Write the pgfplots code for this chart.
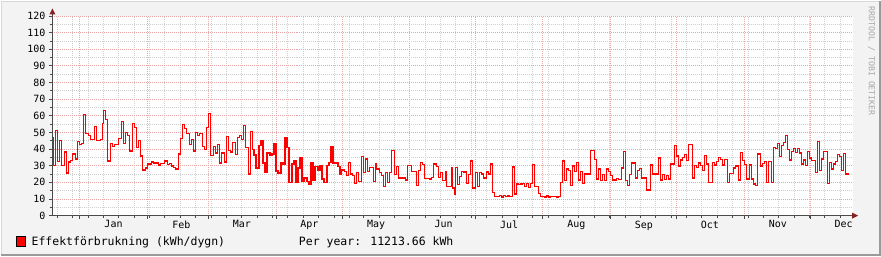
\documentclass[border=0pt]{standalone}
\usepackage{pgfplots}
\pgfplotsset{compat=1.18}
\usepackage{fontspec}
\setmainfont{DejaVu Sans Mono}
\definecolor{bg}{HTML}{F3F3F3}
\definecolor{shadea}{HTML}{D8D8D8}
\definecolor{shadeb}{HTML}{9A9A9A}
\definecolor{mgrid}{HTML}{E8A6A6}
\definecolor{mingrid}{HTML}{D0D0D0}
\definecolor{axisc}{HTML}{4A4A4A}
\definecolor{arrowc}{HTML}{8B1E1E}
\definecolor{wm}{HTML}{A8A8A8}
\begin{document}
\begin{tikzpicture}[x=1pt,y=1pt]
\fill[bg] (0,0) rectangle (881,255);
\draw[shadea, line width=1pt] (0.5,0) -- (0.5,254.5) -- (881,254.5);
\draw[shadeb, line width=2pt] (0,1) -- (880,1) -- (880,255);
\begin{axis}[
  at={(51pt,40pt)}, anchor=south west,
  scale only axis, width=802pt, height=200pt,
  xmin=51, xmax=853, ymin=0, ymax=120,
  axis background/.style={fill=white},
  axis line style={draw=none},
  xtick pos=left, ytick pos=left,
  tick align=outside,
  major tick length=3pt, minor tick length=2pt,
  tick style={axisc, line width=0.8pt},
  ytick={0,10,...,120},
  minor y tick num=1,
  xtick={78.5,146.5,207.5,275.5,341.5,409.5,475.5,542.5,610.5,676.5,744.5,810.5},
  xticklabels={},
  minor xtick={56.5,71.5,87.5,102.5,117.5,133.5,148.5,163.5,179.5,194.5,210.5,225.5,240.5,256.5,271.5,286.5,302.5,317.5,333.5,348.5,363.5,379.5,394.5,409.5,425.5,440.5,455.5,471.5,486.5,502.5,517.5,532.5,548.5,563.5,578.5,594.5,609.5,625.5,640.5,655.5,671.5,686.5,701.5,717.5,732.5,748.5,763.5,778.5,794.5,809.5,824.5,840.5},
  extra x ticks={112.7,180.7,241.3,309,375.7,443.3,509,576.3,644,710,778.3,844},
  extra x tick labels={Jan,Feb,Mar,Apr,May,Jun,Jul,Aug,Sep,Oct,Nov,Dec},
  extra x tick style={grid=none, major tick length=0pt, xticklabel style={yshift=-1.5pt}},
  grid=both,
  major grid style={mgrid, line width=0.8pt, dash pattern=on 1pt off 1pt},
  minor grid style={mingrid, line width=0.8pt, dash pattern=on 1pt off 1pt},
  tick label style={font=\fontsize{10}{12}\selectfont, text=black},
  /pgf/number format/assume math mode=true,
]
\addplot[const plot, red, line width=1.15pt] coordinates {
(51,47) (52.5,30) (54.5,51.4) (56.5,32.4) (58.5,45.4) (60.5,30) (63.5,38.2) (65.5,25.6) (67.5,32.2) (69.5,33)
(71.5,37) (74.5,34) (76.5,44.8) (78.5,42.6) (80.5,43.4) (82.5,61) (84.5,49.6) (87.5,48) (89.5,45.6) (93.5,53.8)
(95.5,45) (99.5,45.6) (101.5,55.6) (102.5,63.4) (104.5,57.6) (106.5,32.8) (109.5,43.6) (111.5,41.4) (113.5,43) (117.5,46.6)
(120.5,56.4) (122.5,43.6) (124.5,50.2) (126.5,48.4) (128.5,38.8) (131.5,55.6) (133.5,53.2) (135.5,40.8) (137.5,45.4) (139.5,35.8)
(141.5,27.4) (144.5,28.6) (146.5,31) (150.5,32.2) (152.5,31.6) (157.5,30.4) (159.5,31.2) (163.5,32.8) (166.5,30.8) (168.5,31.2)
(170.5,29.8) (172.5,28.8) (174.5,28) (177.5,37) (179.5,46.2) (181.5,55) (183.5,52.2) (185.5,49.6) (188.5,43) (190.5,45.6)
(192.5,38.8) (194.5,50.2) (196.5,48) (198.5,49.2) (201.5,41.8) (203.5,39.6) (205.5,53.2) (207.5,61.6) (209.5,36) (212.5,41.4)
(214.5,37.6) (216.5,43) (218.5,31.6) (220.5,37.6) (223.5,32.2) (225.5,47.8) (227.5,39.4) (229.5,38.2) (231.5,44.2) (234.5,36.6)
(236.5,46.8) (238.5,48.4) (240.5,46) (242.5,54.4) (244.5,41.2) (247.5,25) (249.5,50.8) (251.5,39.6) (253.5,36.4) (255.5,28.6)
(258.5,42.4) (260.5,45.4) (262.5,31.6) (264.5,26.2) (266.5,37.6) (269.5,36.4) (271.5,37) (273.5,43.6) (275.5,26.8) (277.5,25.6)
(280.5,31.6) (282.5,31) (284.5,47.2) (286.5,40.8) (288.5,20) (291.5,31) (293.5,32.8) (295.5,20) (297.5,28.6) (299.5,34.6)
(301.5,20.6) (303.5,22.6) (306.5,20.6) (308.5,18.6) (310.5,31.8) (312.5,21) (314.5,29.6) (317.5,27.4) (319.5,30) (321.5,22)
(323.5,20) (326.5,30) (328.5,32) (330.5,41.4) (332.5,31.6) (335.5,32) (337.5,29.4) (339.5,25) (341.5,27.4) (344.5,26.6)
(346.5,24) (348.5,32) (350.5,25) (352.5,24) (354.5,19.4) (356.5,26) (358.5,20.4) (361.5,35.4) (363.5,26) (365.5,34)
(367.5,26.6) (369.5,29) (373.5,20.4) (375.5,31) (376.5,28) (379.5,26) (381.5,24) (383.5,17.4) (385.5,26) (387.5,20)
(389.5,26) (391.5,39) (394.5,24.6) (396.5,29.4) (398.5,22.6) (405.5,21.4) (407.5,30) (411.5,26.6) (416.5,18) (418.5,27)
(420.5,31.8) (422.5,30.6) (424.5,22.4) (429.5,22) (431.5,23) (433.5,31) (436.5,29.4) (438.5,23) (440.5,26) (442.5,21)
(445.5,26.6) (446.5,17.4) (451.5,29) (452.5,16.6) (454.5,12.6) (455.5,29) (457.5,18.6) (459.5,23.4) (461.5,26.4) (463.5,26.2)
(466.5,19.4) (468.5,24.6) (470.5,32.8) (472.5,16.6) (475.5,26) (477.5,17.4) (479.5,26) (481.5,25) (483.5,22.6) (486.5,26.2)
(488.5,25) (490.5,31) (492.5,13.8) (494.5,11.4) (499.5,12.2) (501.5,11.2) (503.5,12) (505.5,11.4) (507.5,11.8) (509.5,11.4)
(512.5,29.2) (514.5,13) (516.5,19) (518.5,18.6) (520.5,19) (522.5,19.4) (524.5,17.4) (526.5,19.4) (528.5,17) (530.5,19.4)
(532.5,30.6) (534.5,17.4) (538.5,13.4) (540.5,11.4) (542.5,11.6) (544.5,11.2) (546.5,11.8) (548.5,11.2) (550.5,11.6) (552.5,11.4)
(554.5,11.6) (556.5,11.2) (558.5,11.4) (560.5,20) (562.5,32.8) (564.5,21) (566.5,28) (568.5,27) (570.5,18) (572.5,29.8)
(574.5,26.6) (576.5,32) (578.5,21.4) (580.5,26.6) (582.5,19.4) (584.5,25) (590.5,39) (594.5,33.8) (596.5,22) (598.5,28)
(600.5,21) (602.5,24.6) (604.5,21) (606.5,28) (608.5,26.4) (610.5,24) (612.5,21.4) (616.5,22.2) (618.5,21.8) (621.5,28.6)
(623.5,38.4) (625.5,21) (627.5,18) (629.5,24.6) (631.5,31.6) (635.5,22.6) (637.5,27) (639.5,28.4) (641.5,22.6) (646.5,15.4)
(650.5,30.4) (652.5,25) (658.5,34.6) (660.5,21.4) (662.5,24.6) (664.5,21.8) (666.5,24) (668.5,22) (670.5,31) (674.5,42)
(676.5,35.8) (678.5,29.8) (680.5,33.4) (682.5,35) (684.5,36.6) (686.5,33) (688.5,43) (692.5,22.6) (694.5,30) (696.5,29)
(698.5,31.6) (700.5,30) (702.5,27) (704.5,36) (706.5,31) (708.5,20) (712.5,32) (714.5,30.4) (716.5,32.4) (718.5,35)
(720.5,33.8) (722.5,30.4) (724.5,33.6) (727.5,20) (729.5,25.4) (733.5,28.6) (735.5,29.8) (738.5,21.4) (740.5,38) (742.5,33)
(744.5,30.6) (746.5,22) (749.5,30.4) (751.5,22) (753.5,19) (755.5,18) (757.5,37) (760.5,29.8) (762.5,31.4) (764.5,32.6)
(766.5,20) (768.5,32.6) (771.5,20) (773.5,41) (775.5,40.6) (777.5,43.4) (779.5,35.4) (781.5,42) (783.5,43.8) (785.5,48.4)
(787.5,40) (789.5,33.4) (791.5,38.6) (793.5,40.6) (795.5,38) (797.5,40.4) (799.5,37.6) (801.5,31) (803.5,33.4) (805.5,30)
(807.5,38.6) (809.5,34.6) (811.5,33) (815.5,25.8) (817.5,44.6) (819.5,27) (821.5,34) (823.5,38.6) (827.5,19.4) (829.5,32)
(831.5,28) (833.5,31) (835.5,32.4) (837.5,36.6) (839.5,35.4) (841.5,27) (843.5,37.4) (845.5,25) (849.5,25)
};
\end{axis}
\draw[axisc, line width=1pt] (51.5,40) -- (854,40);
\fill[arrowc] (858.5,40) -- (852.5,37) -- (852.5,43) -- cycle;
\draw[axisc, line width=1pt] (51.5,40) -- (51.5,243);
\fill[arrowc] (51.5,247.5) -- (48.5,241.5) -- (54.5,241.5) -- cycle;
\filldraw[fill=red, draw=black, line width=0.8pt] (15,9) rectangle (24,19);
\node[anchor=base west, inner sep=0pt, font=\fontsize{11.5}{13}\selectfont] at (30.5,10) {Effektförbrukning (kWh/dygn)};
\node[anchor=base west, inner sep=0pt, font=\fontsize{11.5}{13}\selectfont] at (298.3,10) {Per year: 11213.66 kWh};
\node[rotate=-90, anchor=west, inner sep=0pt, text=wm, font=\fontsize{8.3}{10}\selectfont] at (872,250) {RRDTOOL / TOBI OETIKER};
\end{tikzpicture}
\end{document}
